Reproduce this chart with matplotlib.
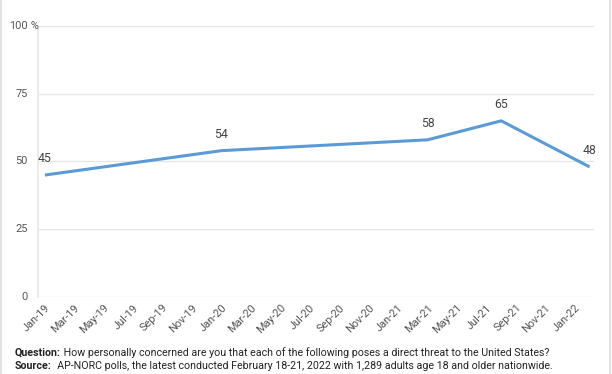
import matplotlib
matplotlib.use("Agg")
import matplotlib.pyplot as plt
from matplotlib.patches import Rectangle

plt.rcParams['font.family'] = ['Roboto', 'DejaVu Sans']

# survey dates (year, month) and share concerned (%)
dates = [(2019, 1), (2020, 1), (2021, 3), (2021, 8), (2022, 2)]
values = [45, 54, 58, 65, 48]

tick_names = ['Jan-19', 'Mar-19', 'May-19', 'Jul-19', 'Sep-19', 'Nov-19',
              'Jan-20', 'Mar-20', 'May-20', 'Jul-20', 'Sep-20', 'Nov-20',
              'Jan-21', 'Mar-21', 'May-21', 'Jul-21', 'Sep-21', 'Nov-21',
              'Jan-22']
yticks = [0, 25, 50, 75, 100]

question = "How personally concerned are you that each of the following poses a direct threat to the United States?"
source = " AP-NORC polls, the latest conducted February 18-21, 2022 with 1,289 adults age 18 and older nationwide."

# months since Jan 2019
x = [(y - 2019) * 12 + (m - 1) for y, m in dates]
tick_pos = [i * 2 for i in range(len(tick_names))]

fig = plt.figure(figsize=(6.12, 3.74), dpi=100)
ax = fig.add_axes([0.0613, 0.2059, 0.9093, 0.7246])

ax.plot(x, values, color='#5b9bd5', lw=2.2, solid_capstyle='butt', zorder=3)
for xi, v in zip(x, values):
    ax.annotate(str(v), (xi, v), xytext=(0, 7), textcoords='offset points',
                ha='center', va='bottom', fontsize=8.8, color='#444444')

ax.set_xlim(-0.5, 37.3)
ax.set_ylim(0, 100)
ax.set_yticks(yticks)
ax.set_yticklabels([])
ax.set_xticks(tick_pos)
ax.set_xticklabels(tick_names, rotation=45, ha='right', rotation_mode='anchor')
ax.tick_params(axis='both', length=0, labelsize=7.9, labelcolor='#555555')
ax.tick_params(axis='x', pad=4)
ax.grid(axis='y', color='#e6e6e6', lw=1)
ax.set_axisbelow(True)
for s in ['top', 'right', 'bottom']:
    ax.spines[s].set_visible(False)
ax.spines['left'].set_color('#ececec')
ax.spines['left'].set_linewidth(1.5)

# y labels: numbers right-aligned, "%" hanging after the top one
ytr = ax.get_yaxis_transform()
for v in yticks:
    ax.annotate(str(v), (0, v), xycoords=ytr, xytext=(-7, 0),
                textcoords='offset points', ha='right', va='center',
                fontsize=7.9, color='#555555')
ax.annotate(' %', (0, 100), xycoords=ytr, xytext=(-7, 0),
            textcoords='offset points', ha='left', va='center',
            fontsize=7.9, color='#555555')

# footer: bold lead-in followed by plain text
for label, body, ypix in [("Question:", " " + question, 356),
                          ("Source:", " " + source, 369)]:
    t = fig.text(15 / 612, 1 - ypix / 374, label, fontsize=7.7,
                 fontweight='bold', color='#222222', va='baseline')
    ax.annotate(body, xy=(1, 0), xycoords=t, va='bottom', ha='left',
                fontsize=7.7, color='#222222', annotation_clip=False)

# outer frame lines
fig.add_artist(Rectangle((0, 0), 2 / 612, 1, transform=fig.transFigure,
                         color='#e3e3e3', lw=0))
fig.add_artist(Rectangle((609 / 612, 0), 2 / 612, 1, transform=fig.transFigure,
                         color='#e3e3e3', lw=0))

fig.savefig('out.png', dpi=100)
